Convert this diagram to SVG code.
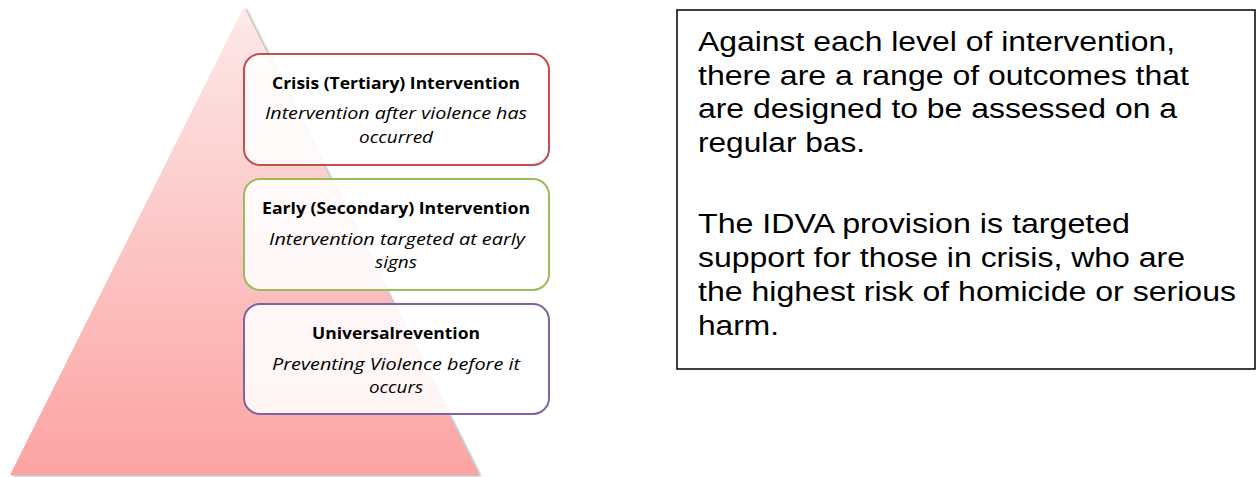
<svg xmlns="http://www.w3.org/2000/svg" width="1258" height="477" viewBox="0 0 1258 477">
  <defs>
    <linearGradient id="pyr" x1="0" y1="0" x2="0" y2="1">
      <stop offset="0" stop-color="#fde9e9"/>
      <stop offset="1" stop-color="#fca3a3"/>
    </linearGradient>
    <filter id="sh" x="-10%" y="-10%" width="120%" height="120%">
      <feGaussianBlur in="SourceAlpha" stdDeviation="1.2"/>
      <feOffset dx="2" dy="1" result="b"/>
      <feFlood flood-color="#000" flood-opacity="0.35"/>
      <feComposite in2="b" operator="in"/>
      <feMerge><feMergeNode/><feMergeNode in="SourceGraphic"/></feMerge>
    </filter>
  </defs>
  <style>
    .box { fill: #ffffff; fill-opacity: 0.88; stroke-width: 2; }
    .ttl { font-family: "Open Sans", "Noto Sans", sans-serif; font-weight: bold; font-size: 16.5px; fill: #000; text-anchor: middle; }
    .sub { font-family: "Open Sans", "Noto Sans", sans-serif; font-style: italic; font-size: 16.5px; fill: #000; text-anchor: middle; }
    .note { font-family: "Liberation Sans", Arial, sans-serif; font-size: 27.5px; fill: #000; }
  </style>
  <g id="pyramid">
    <polygon points="244,7 479,475 10,475" fill="url(#pyr)" filter="url(#sh)"/>
  </g>
  <g id="crisis">
    <rect class="box" x="244" y="54" width="305" height="111" rx="16" stroke="#c0504d"/>
    <text class="ttl" x="396" y="89" textLength="248" lengthAdjust="spacingAndGlyphs">Crisis (Tertiary) Intervention</text>
    <text class="sub" x="396" y="119" textLength="262" lengthAdjust="spacingAndGlyphs">Intervention after violence has</text>
    <text class="sub" x="396" y="143" textLength="74" lengthAdjust="spacingAndGlyphs">occurred</text>
  </g>
  <g id="early">
    <rect class="box" x="244" y="179" width="305" height="111" rx="16" stroke="#9bbb59"/>
    <text class="ttl" x="396" y="214" textLength="268" lengthAdjust="spacingAndGlyphs">Early (Secondary) Intervention</text>
    <text class="sub" x="397" y="245" textLength="256" lengthAdjust="spacingAndGlyphs">Intervention targeted at early</text>
    <text class="sub" x="396" y="268" textLength="42" lengthAdjust="spacingAndGlyphs">signs</text>
  </g>
  <g id="universal">
    <rect class="box" x="244" y="304" width="305" height="110" rx="16" stroke="#8064a2"/>
    <text class="ttl" x="396" y="339" textLength="168" lengthAdjust="spacingAndGlyphs">Universalrevention</text>
    <text class="sub" x="396" y="370" textLength="248" lengthAdjust="spacingAndGlyphs">Preventing Violence before it</text>
    <text class="sub" x="396" y="393" textLength="54" lengthAdjust="spacingAndGlyphs">occurs</text>
  </g>
  <g id="note">
    <rect x="677" y="10" width="578" height="359" fill="#fff" stroke="#000" stroke-width="1.5"/>
    <text class="note" x="698" y="51" textLength="477" lengthAdjust="spacingAndGlyphs">Against each level of intervention,</text>
    <text class="note" x="698" y="85" textLength="491" lengthAdjust="spacingAndGlyphs">there are a range of outcomes that</text>
    <text class="note" x="698" y="118" textLength="479" lengthAdjust="spacingAndGlyphs">are designed to be assessed on a</text>
    <text class="note" x="698" y="152" textLength="167" lengthAdjust="spacingAndGlyphs">regular bas.</text>
    <text class="note" x="698" y="233" textLength="432" lengthAdjust="spacingAndGlyphs">The IDVA provision is targeted</text>
    <text class="note" x="698" y="267" textLength="487" lengthAdjust="spacingAndGlyphs">support for those in crisis, who are</text>
    <text class="note" x="698" y="301" textLength="538" lengthAdjust="spacingAndGlyphs">the highest risk of homicide or serious</text>
    <text class="note" x="698" y="335" textLength="81" lengthAdjust="spacingAndGlyphs">harm.</text>
  </g>
  <g id="connectors"/>
</svg>
